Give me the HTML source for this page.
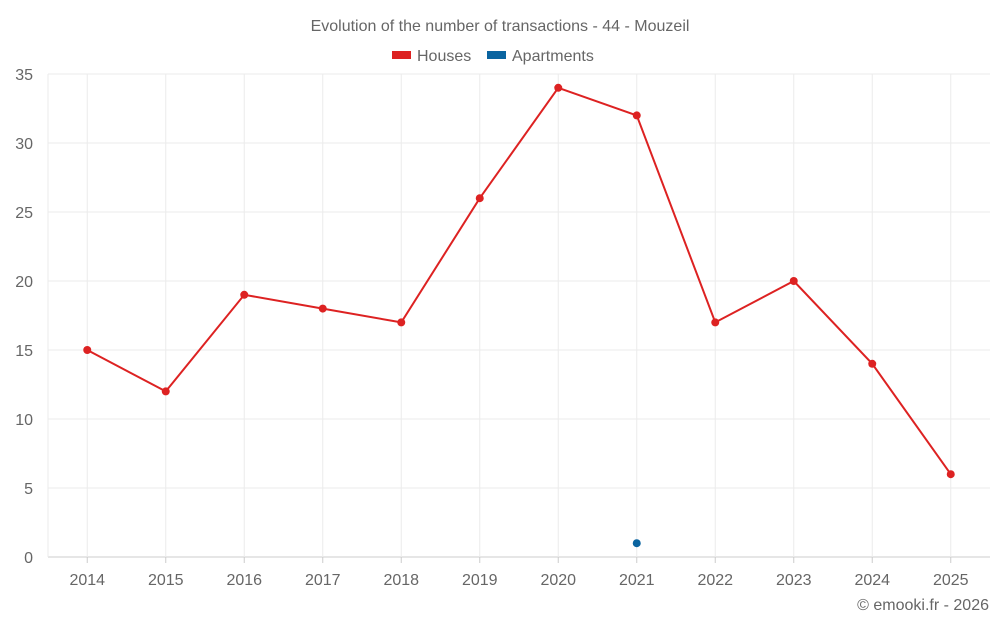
<!DOCTYPE html>
<html><head><meta charset="utf-8"><style>
body{margin:0;background:#fff;font-family:"Liberation Sans",sans-serif;}
svg{display:block}
text{font-family:"Liberation Sans",sans-serif;fill:#666}
</style></head><body>
<svg id="chart" width="1000" height="625" xmlns="http://www.w3.org/2000/svg">
<text x="500" y="31" text-anchor="middle" font-size="16">Evolution of the number of transactions - 44 - Mouzeil</text>
<g>
<g><rect x="392" y="51" width="19" height="8" fill="#dd2222"/><text x="417" y="61" font-size="16">Houses</text></g>
<g><rect x="487" y="51" width="19" height="8" fill="#0a64a0"/><text x="512" y="61" font-size="16">Apartments</text></g>
</g>
<g id="grid"></g>
<g id="axes"></g>
<g id="series"></g>
<text x="989" y="610" text-anchor="end" font-size="16">© emooki.fr - 2026</text>
</svg>
<script>
const categories=["2014","2015","2016","2017","2018","2019","2020","2021","2022","2023","2024","2025"];
const houses=[15,12,19,18,17,26,34,32,17,20,14,6];
const apartments=[null,null,null,null,null,null,null,1,null,null,null,null];
const yTicks=[0,5,10,15,20,25,30,35];
const L=48,R=990,T=74,B=557,yMax=35;
const bw=(R-L)/categories.length;
const x=i=>L+bw*(i+0.5);
const y=v=>B-(v/yMax)*(B-T);
const NS="http://www.w3.org/2000/svg";
function mk(parent,tag,attrs){const e=document.createElementNS(NS,tag);for(const k in attrs)e.setAttribute(k,attrs[k]);document.getElementById(parent).appendChild(e);return e;}
yTicks.forEach(t=>{
 const l=mk("grid","line",{x1:L,x2:R,y1:y(t),y2:y(t),stroke:t===0?"#ccc":"#ebebeb"});
 
 
 const tx=mk("axes","text",{x:33,y:y(t)+6,"text-anchor":"end","font-size":"16"});tx.textContent=t;
 
 
});
const le=mk("grid","line",{x1:L,x2:L,y1:T,y2:B,stroke:"#ebebeb"});


categories.forEach((c,i)=>{
 const g=mk("grid","line",{x1:x(i),x2:x(i),y1:T,y2:B,stroke:"#ebebeb"});
 
 
 const tk=mk("axes","line",{x1:x(i),x2:x(i),y1:B,y2:B+6,stroke:"#ccc"});
 
 
 const t=mk("axes","text",{x:x(i),y:585,"text-anchor":"middle","font-size":"16"});t.textContent=c;
 
 
});
function drawSeries(vals,color,name){
 let d="";let pen=false;
 vals.forEach((v,i)=>{if(v==null){pen=false;return;}d+=(pen?"L":"M")+x(i)+" "+y(v)+" ";pen=true;});
 if(d){const p=mk("series","path",{d:d,fill:"none",stroke:color,"stroke-width":2});
 
 }
 vals.forEach((v,i)=>{if(v==null)return;
  const c=mk("series","circle",{cx:x(i),cy:y(v),r:4,fill:color});
  
  
 });
}
drawSeries(houses,"#dd2222","houses");
drawSeries(apartments,"#0a64a0","apartments");
</script>
</body></html>
